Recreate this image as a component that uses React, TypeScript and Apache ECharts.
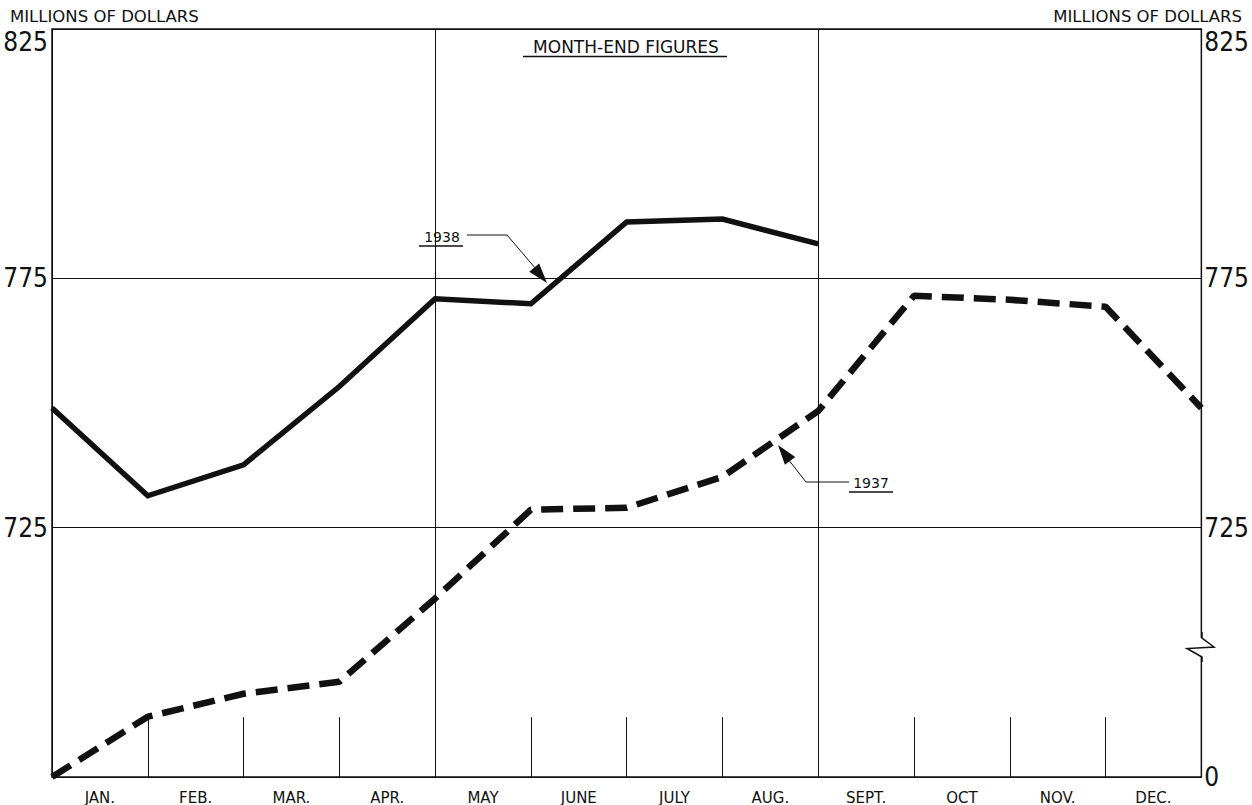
import React, { useEffect, useRef } from "react";
import * as echarts from "echarts";

// ---- data ----
const monthLabels = ["JAN.", "FEB.", "MAR.", "APR.", "MAY", "JUNE", "JULY", "AUG.", "SEPT.", "OCT", "NOV.", "DEC."];
// month-end points: index 0 = start of January (end of previous December)
const values1938 = [749, 731.4, 737.6, 753.3, 770.9, 769.9, 786.3, 786.9, 781.9];
const values1937 = [675, 687.1, 691.7, 694.1, 710.8, 728.6, 729.0, 735.2, 748.4, 771.5, 770.7, 769.3, 749];
const yTickValues = [675, 725, 775, 825];
const yTickLabels = ["0", "725", "775", "825"];
const shortTickMonths = [1, 2, 3, 5, 6, 7, 9, 10, 11];
const shortTickTop = 687;
const yMin = 675;
const yMax = 825;

const NUM_FONT = "'Liberation Sans Narrow', 'DejaVu Sans Condensed', 'Arial Narrow', sans-serif";
const CAP_FONT = "'DejaVu Sans', 'Noto Sans', sans-serif";
const INK = "#111";

function yLabel(showZero: boolean) {
  return (v: number) => {
    const i = yTickValues.indexOf(v);
    if (i < 0) return "";
    if (v === yMin && !showZero) return "";
    if (v === yMax) return "{top|" + yTickLabels[i] + "}";
    return "{n|" + yTickLabels[i] + "}";
  };
}

const yRich = {
  top: { fontFamily: NUM_FONT, fontSize: 26, color: INK, padding: [26, 0, 0, 0] },
  n: { fontFamily: NUM_FONT, fontSize: 26, color: INK },
};

export default function App() {
  const ref = useRef<HTMLDivElement>(null);
  useEffect(() => {
    if (!ref.current) return;
    const chart = echarts.init(ref.current, undefined, { renderer: "svg" });

    const arrow = (tip: number[], from: number[], len = 20, half = 6.5) => {
      const dx = tip[0] - from[0];
      const dy = tip[1] - from[1];
      const d = Math.hypot(dx, dy);
      const ux = dx / d, uy = dy / d;
      const bx = tip[0] - ux * len, by = tip[1] - uy * len;
      return {
        type: "polygon",
        z: 100,
        shape: { points: [tip, [bx - uy * half, by + ux * half], [bx + uy * half, by - ux * half]] },
        style: { fill: INK },
      };
    };

    chart.setOption({
      animation: false,
      backgroundColor: "#fff",
      grid: { left: 52, right: 50, top: 29, bottom: 28, show: true, borderColor: INK, borderWidth: 1.5 },
      xAxis: [
        {
          type: "value",
          min: 0,
          max: 12,
          interval: 4,
          axisLine: { show: false },
          axisTick: { show: false },
          axisLabel: { show: false },
          splitLine: { show: true, lineStyle: { color: INK, width: 1 } },
        },
        {
          type: "category",
          position: "bottom",
          data: monthLabels,
          boundaryGap: true,
          axisLine: { show: false },
          axisTick: { show: false },
          splitLine: { show: false },
          axisLabel: { margin: 13, fontFamily: CAP_FONT, fontSize: 15, color: INK },
        },
      ],
      yAxis: [
        {
          type: "value",
          position: "left",
          min: yMin,
          max: yMax,
          interval: 50,
          axisLine: { show: false },
          axisTick: { show: false },
          splitLine: { show: true, lineStyle: { color: INK, width: 1 } },
          axisLabel: { margin: 4, formatter: yLabel(false), rich: yRich },
        },
        {
          type: "value",
          position: "right",
          min: yMin,
          max: yMax,
          interval: 50,
          axisLine: { show: false },
          axisTick: { show: false },
          splitLine: { show: false },
          axisLabel: { margin: 3, formatter: yLabel(true), rich: yRich },
        },
      ],
      series: [
        {
          name: "1938",
          type: "line",
          xAxisIndex: 0,
          yAxisIndex: 0,
          data: values1938.map((v, i) => [i, v]),
          symbol: "none",
          lineStyle: { color: INK, width: 5.5, join: "miter" },
          z: 5,
        },
        {
          name: "1937",
          type: "line",
          xAxisIndex: 0,
          yAxisIndex: 0,
          data: values1937.map((v, i) => [i, v]),
          symbol: "none",
          lineStyle: { color: INK, width: 6.5, type: [22, 10], cap: "butt" },
          z: 5,
          markLine: {
            silent: true,
            symbol: "none",
            label: { show: false },
            lineStyle: { color: INK, width: 1, type: "solid" },
            data: shortTickMonths.map((m) => [{ coord: [m, yMin] }, { coord: [m, shortTickTop] }]),
          },
        },
      ],
      graphic: [
        { type: "text", z: 100, left: 10, top: 8, style: { text: "MILLIONS OF DOLLARS", font: `16.5px ${CAP_FONT}`, fill: INK } },
        { type: "text", z: 100, right: 10, top: 8, style: { text: "MILLIONS OF DOLLARS", font: `16.5px ${CAP_FONT}`, fill: INK } },
        { type: "text", z: 100, x: 626, y: 47, style: { text: "MONTH-END FIGURES", font: `17px ${CAP_FONT}`, fill: INK, align: "center", verticalAlign: "middle" } },
        { type: "line", z: 100, shape: { x1: 523, y1: 56.5, x2: 727, y2: 56.5 }, style: { stroke: INK, lineWidth: 1.5 } },
        // 1938 annotation
        { type: "text", z: 100, x: 442, y: 237, style: { text: "1938", font: `14px ${CAP_FONT}`, fill: INK, align: "center", verticalAlign: "middle" } },
        { type: "line", z: 100, shape: { x1: 419, y1: 246, x2: 463, y2: 246 }, style: { stroke: INK, lineWidth: 1.5 } },
        { type: "polyline", z: 100, shape: { points: [[467, 235], [507, 235], [536, 269]] }, style: { stroke: INK, lineWidth: 1, fill: null } },
        arrow([547, 283], [507, 235]),
        // 1937 annotation
        { type: "text", z: 100, x: 871, y: 483, style: { text: "1937", font: `14px ${CAP_FONT}`, fill: INK, align: "center", verticalAlign: "middle" } },
        { type: "line", z: 100, shape: { x1: 849, y1: 492, x2: 893, y2: 492 }, style: { stroke: INK, lineWidth: 1.5 } },
        { type: "polyline", z: 100, shape: { points: [[849, 482], [806, 482], [788, 459]] }, style: { stroke: INK, lineWidth: 1, fill: null } },
        arrow([778, 445], [806, 482]),
        // axis break on right
        { type: "rect", z: 100, shape: { x: 1196, y: 638, width: 12, height: 19 }, style: { fill: "#fff" } },
        {
          type: "polyline",
          z: 101,
          shape: { points: [[1202, 632], [1202, 638], [1214, 647], [1187, 648.5], [1202, 657], [1202, 662]] },
          style: { stroke: INK, lineWidth: 1.5, fill: null },
        },
      ],
    });
    return () => chart.dispose();
  }, []);
  return (
    <div
      ref={ref}
      style={{ position: "fixed", left: 0, top: 0, width: 1252, height: 805, background: "#fff" }}
    />
  );
}
